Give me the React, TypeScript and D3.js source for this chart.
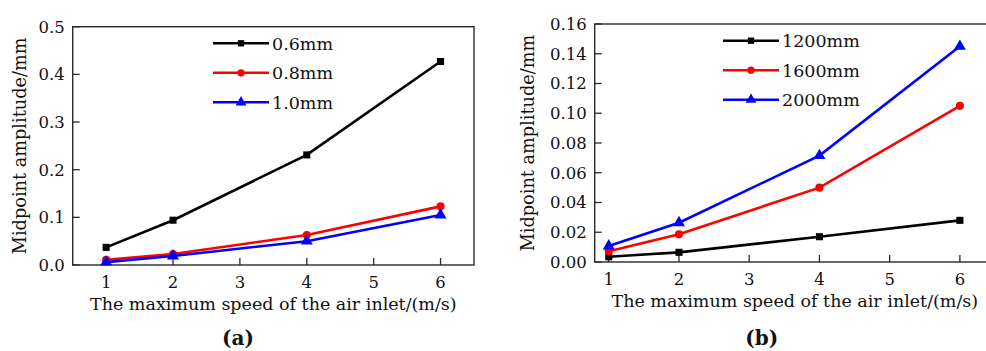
import React from "react";
import * as d3 from "d3";

// data
const speeds = [1, 2, 4, 6];
const xTicks = [1, 2, 3, 4, 5, 6];

const thicknessLabels = ["0.6mm", "0.8mm", "1.0mm"];
const amp06 = [0.037, 0.094, 0.231, 0.427];
const amp08 = [0.011, 0.023, 0.063, 0.123];
const amp10 = [0.006, 0.019, 0.05, 0.105];
const yTicksA = [0, 0.1, 0.2, 0.3, 0.4, 0.5];

const lengthLabels = ["1200mm", "1600mm", "2000mm"];
const amp1200 = [0.0035, 0.0065, 0.017, 0.028];
const amp1600 = [0.0072, 0.0186, 0.05, 0.105];
const amp2000 = [0.0108, 0.0264, 0.0715, 0.145];
const yTicksB = [0, 0.02, 0.04, 0.06, 0.08, 0.1, 0.12, 0.14, 0.16];

const colors = ["#000000", "#ff0000", "#0000ff"];
const symbols = [d3.symbolSquare, d3.symbolCircle, d3.symbolTriangle];
const markerSize = [50, 52, 62];

const FONT = "DejaVu Serif";

interface PanelProps {
  left: number;
  right: number;
  top: number;
  bottom: number;
  xDomain: [number, number];
  yMax: number;
  yTicks: number[];
  yFmt: string;
  series: number[][];
  labels: string[];
  legendX: number;
  legendY: number;
  yLabelX: number;
  tag: string;
  tagX: number;
}

const Panel = (p: PanelProps) => {
  const x = d3.scaleLinear().domain(p.xDomain).range([p.left, p.right]);
  const y = d3.scaleLinear().domain([0, p.yMax]).range([p.bottom, p.top]);
  const fmt = d3.format(p.yFmt);
  const line = d3
    .line<number>()
    .x((_, i) => x(speeds[i]))
    .y((d) => y(d));
  const tick = 7;

  return (
    <g style={{ fontFamily: FONT }} fill="#111">
      {/* frame */}
      <rect
        x={p.left}
        y={p.top}
        width={p.right - p.left}
        height={p.bottom - p.top}
        fill="none"
        stroke="#2a2a2a"
        strokeWidth={1.4}
      />
      {/* y ticks */}
      {p.yTicks.map((t) => (
        <g key={"y" + t}>
          <line x1={p.left} x2={p.left + tick} y1={y(t)} y2={y(t)} stroke="#2a2a2a" strokeWidth={1.3} />
          <text x={p.left - 8} y={y(t)} dy="0.36em" textAnchor="end" fontSize={16.5}>
            {fmt(t)}
          </text>
        </g>
      ))}
      {/* x ticks */}
      {xTicks.map((t) => (
        <g key={"x" + t}>
          <line x1={x(t)} x2={x(t)} y1={p.bottom} y2={p.bottom - tick} stroke="#2a2a2a" strokeWidth={1.3} />
          <text x={x(t)} y={p.bottom + 23} textAnchor="middle" fontSize={16.5}>
            {t}
          </text>
        </g>
      ))}
      {/* series */}
      {p.series.map((s, k) => (
        <g key={"s" + k}>
          <path d={line(s) || ""} fill="none" stroke={colors[k]} strokeWidth={2.6} />
          {s.map((v, i) => (
            <path
              key={i}
              d={d3.symbol().type(symbols[k]).size(markerSize[k])() || ""}
              transform={`translate(${x(speeds[i])},${y(v)})`}
              fill={colors[k]}
            />
          ))}
        </g>
      ))}
      {/* legend */}
      {p.labels.map((lab, k) => {
        const ly = p.legendY + k * 29.5;
        return (
          <g key={"l" + k}>
            <line x1={p.legendX} x2={p.legendX + 56} y1={ly} y2={ly} stroke={colors[k]} strokeWidth={2.6} />
            <path
              d={d3.symbol().type(symbols[k]).size(markerSize[k] * 0.8)() || ""}
              transform={`translate(${p.legendX + 28},${ly})`}
              fill={colors[k]}
            />
            <text x={p.legendX + 59} y={ly} dy="0.36em" fontSize={17.5}>
              {lab}
            </text>
          </g>
        );
      })}
      {/* axis titles */}
      <text
        x={(p.left + p.right) / 2}
        y={p.bottom + 45}
        textAnchor="middle"
        fontSize={17.5}
      >
        The maximum speed of the air inlet/(m/s)
      </text>
      <text
        transform={`translate(${p.yLabelX},${(p.top + p.bottom) / 2}) rotate(-90)`}
        textAnchor="middle"
        fontSize={17.7}
      >
        Midpoint amplitude/mm
      </text>
      <text x={p.tagX} y={345} textAnchor="middle" fontSize={20} fontWeight="bold">
        ({p.tag})
      </text>
    </g>
  );
};

const App = () => {
  return (
    <svg
      width={986}
      height={351}
      style={{ position: "absolute", left: 0, top: 0, background: "#fff" }}
    >
      <Panel
        left={72.7}
        right={474}
        top={26.7}
        bottom={265}
        xDomain={[0.5, 6.5]}
        yMax={0.5}
        yTicks={yTicksA}
        yFmt=".1f"
        series={[amp06, amp08, amp10]}
        labels={thicknessLabels}
        legendX={213}
        legendY={43.3}
        yLabelX={26}
        tag="a"
        tagX={238}
      />
      <Panel
        left={594.7}
        right={995}
        top={24}
        bottom={262}
        xDomain={[0.8, 6.5]}
        yMax={0.16}
        yTicks={yTicksB}
        yFmt=".2f"
        series={[amp1200, amp1600, amp2000]}
        labels={lengthLabels}
        legendX={723}
        legendY={40.7}
        yLabelX={534}
        tag="b"
        tagX={761.7}
      />
    </svg>
  );
};

export default App;
